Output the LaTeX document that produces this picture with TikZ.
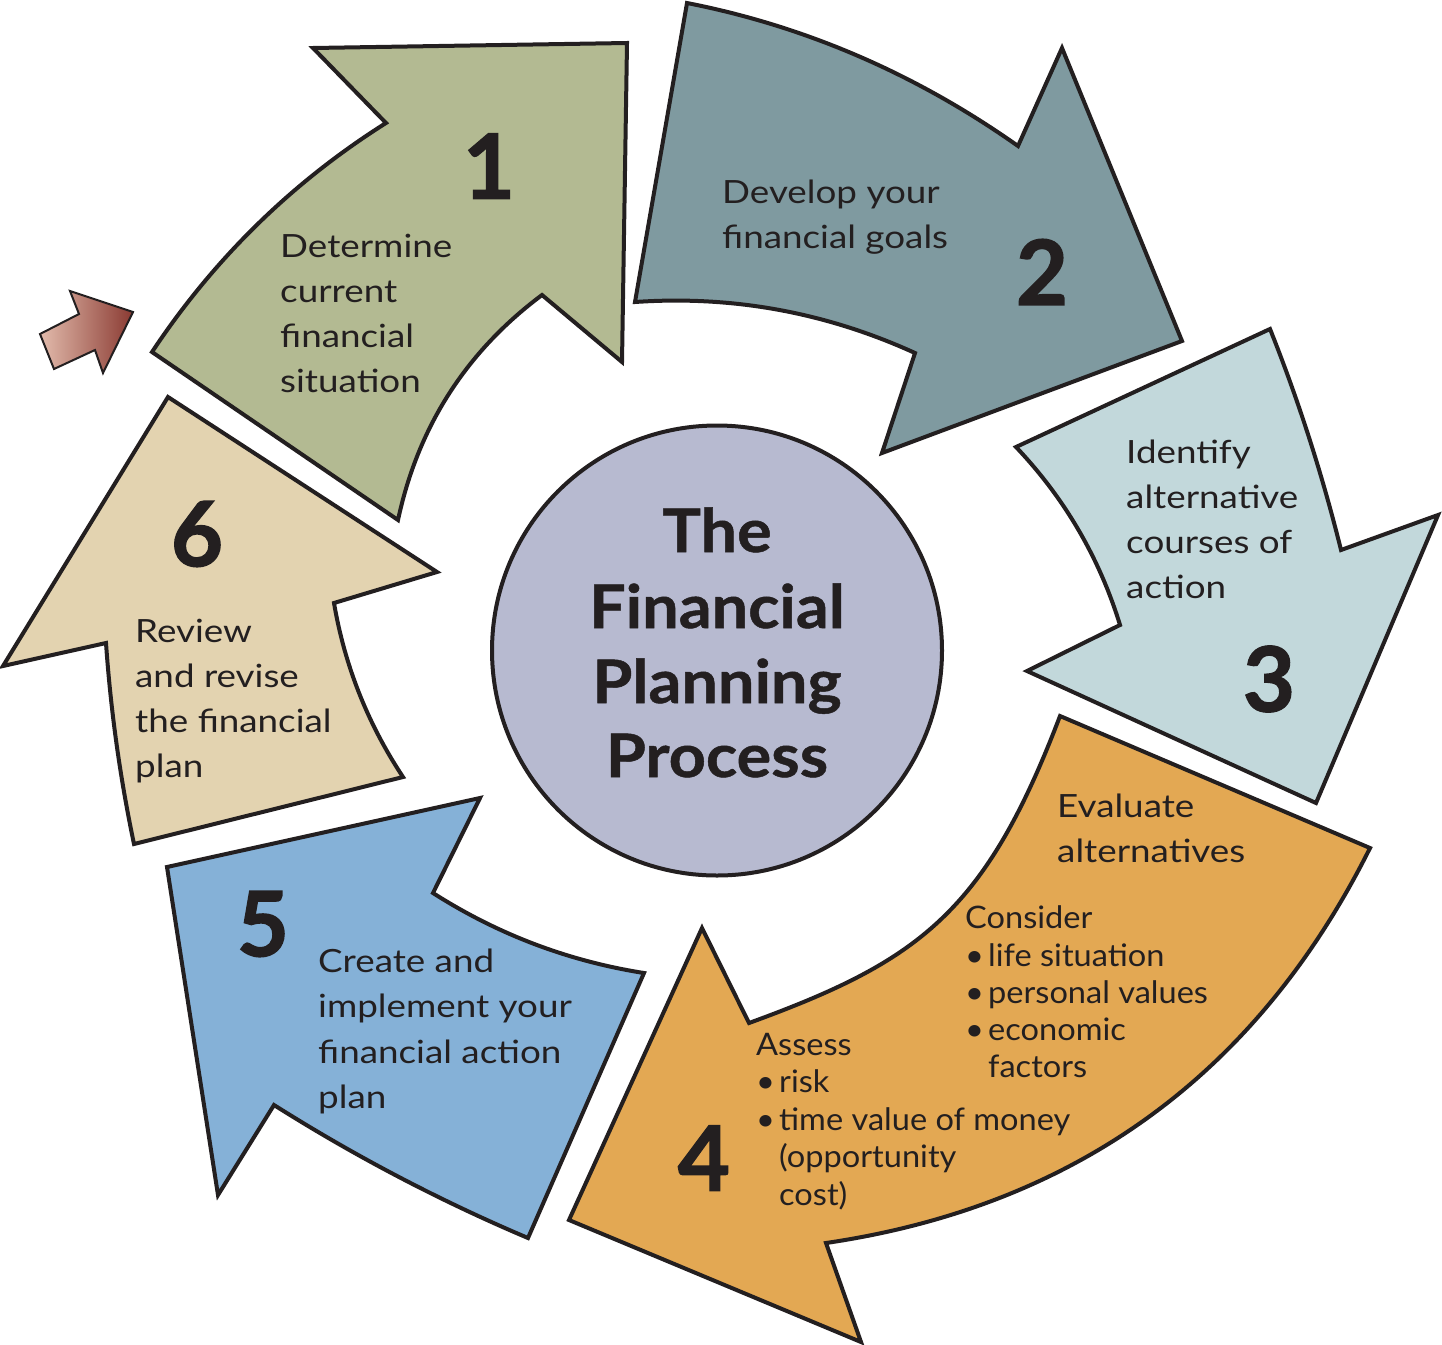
\documentclass[tikz,border=0pt]{standalone}
\usepackage{fontspec}
\setmainfont{Lato}
\newfontfamily\mainwide{Lato}[FakeStretch=1.15]
\newfontfamily\listfont{Lato}[FakeStretch=1.05]
\newfontfamily\ttlfont{Lato}[FakeStretch=1.08, BoldFeatures={FakeBold=0.8}]
\newfontfamily\numfont{Lato}[BoldFeatures={FakeBold=1.5}]
\definecolor{ink}{HTML}{231F20}
\definecolor{cgreen}{HTML}{B3BA92}
\definecolor{csteel}{HTML}{7F9AA0}
\definecolor{cpale}{HTML}{C2D8DB}
\definecolor{corange}{HTML}{E3A853}
\definecolor{cblue}{HTML}{85B1D7}
\definecolor{cbeige}{HTML}{E3D3B0}
\definecolor{chub}{HTML}{B7BAD0}
\definecolor{redlight}{HTML}{E2BBAC}
\definecolor{reddark}{HTML}{8A3A32}
\begin{document}
\begin{tikzpicture}[x=1pt,y=-1pt,
  blob/.style={draw=ink, line width=4pt, line join=miter},
  txt/.style={anchor=base west, inner sep=0pt, text=ink, font=\mainwide\fontsize{32}{40}\selectfont},
  lst/.style={anchor=base west, inner sep=0pt, text=ink, font=\listfont\fontsize{31}{38}\selectfont},
  num/.style={anchor=center, inner sep=0pt, text=ink, font=\numfont\fontsize{90}{90}\selectfont\bfseries},
  ttl/.style={anchor=base, inner sep=0pt, text=ink, font=\ttlfont\fontsize{60}{60}\selectfont\bfseries}]
\useasboundingbox (0,0) rectangle (1442,1344);

% arrow 1
\path[blob, fill=cgreen] (152,352) .. controls (214,258.7) and (292,182.3) .. (386,123) -- (313,48) -- (627,43)
  -- (622,362) -- (542,295) .. controls (466,351.7) and (418,426.7) .. (398,520) -- cycle;
% arrow 2
\path[blob, fill=csteel] (687,3) .. controls (805.7,26.3) and (916,74) .. (1018,146) -- (1062,48) -- (1182,341)
  -- (882,453) -- (915,353) .. controls (825.7,312.3) and (732.3,295.3) .. (635,302) -- cycle;
% arrow 3
\path[blob, fill=cpale] (1270,329) -- (1016,447) .. controls (1064.7,498.3) and (1099.3,557.7) .. (1120,625) -- (1027,671)
  -- (1316,803) -- (1438,515) -- (1341,550) .. controls (1322.3,474.7) and (1298.7,401) .. (1270,329) -- cycle;
% arrow 4
\path[blob, fill=corange] (1060,716) -- (1370,848) .. controls (1256.7,1074.7) and (1075.3,1206.3) .. (826,1243) -- (861,1342)
  -- (569,1220) -- (702,928) -- (749,1023) .. controls (919,961) and (985,913) .. (1060,716) -- cycle;
% arrow 5
\path[blob, fill=cblue] (167,867) -- (480,798) -- (433,893) .. controls (497.7,934.3) and (568,961) .. (644,973)
  -- (528,1238) .. controls (440,1200.7) and (355.3,1156.3) .. (274,1105) -- (218,1195) -- cycle;
% arrow 6
\path[blob, fill=cbeige] (168,397) -- (437,572) -- (334,603) .. controls (344.7,665.7) and (367.7,723.7) .. (403,777)
  -- (134,844) .. controls (120,777.3) and (110.7,710.3) .. (106,643) -- (3,666) -- cycle;

% small red arrow
\shade[left color=redlight, right color=reddark, draw=ink, line width=2pt, line join=miter]
  (133,312) -- (103,373) -- (95,350) -- (54,369) -- (40,334) -- (79,314) -- (70,291) -- cycle;

% hub
\node[circle, draw=ink, line width=4pt, fill=chub, minimum size=450pt, inner sep=0pt] (hub) at (717,650.5) {};
\node[ttl] (t1) at (717,552) {The};
\node[ttl] (t2) at (717,628) {Financial};
\node[ttl] (t3) at (717,703) {Planning};
\node[ttl] (t4) at (717,777) {Process};

% numbers
\node[num] (n1) at (489,166) {1};
\node[num] (n2) at (1042,272) {2};
\node[num] (n3) at (1269,679) {3};
\node[num] (n4) at (704,1158) {4};
\node[num] (n5) at (263,924) {5};
\node[num] (n6) at (197,534) {6};

% texts
\foreach \t [count=\i] in {Determine,current,financial,situation}
  \node[txt] (a\i) at (280,{257+45*(\i-1)}) {\t};
\foreach \t [count=\i] in {Develop your,financial goals}
  \node[txt] (b\i) at (722,{203+45*(\i-1)}) {\t};
\foreach \t [count=\i] in {Identify,alternative,courses of,action}
  \node[txt] (c\i) at (1126,{463+45*(\i-1)}) {\t};
\foreach \t [count=\i] in {Review,and revise,the financial,plan}
  \node[txt] (f\i) at (135,{642+45.3*(\i-1)}) {\t};
\foreach \t [count=\i] in {Create and,implement your,financial action,plan}
  \node[txt] (e\i) at (318,{972+45.6*(\i-1)}) {\t};

\node[txt] (d1) at (1057,817) {Evaluate};
\node[txt] (d2) at (1057,862) {alternatives};
\node[lst] (d3) at (965,928) {Consider};
\node[lst] (d4) at (965,966) {\makebox[23pt][l]{•}life situation};
\node[lst] (d5) at (965,1003) {\makebox[23pt][l]{•}personal values};
\node[lst] (d6) at (965,1040) {\makebox[23pt][l]{•}economic};
\node[lst] (d7) at (988,1077) {factors};
\node[lst] (d8) at (756,1055) {Assess};
\node[lst] (d9) at (756,1092) {\makebox[23pt][l]{•}risk};
\node[lst] (d10) at (756,1130) {\makebox[23pt][l]{•}time value of money};
\node[lst] (d11) at (779,1167) {(opportunity};
\node[lst] (d12) at (779,1205) {cost)};
\end{tikzpicture}
\end{document}
